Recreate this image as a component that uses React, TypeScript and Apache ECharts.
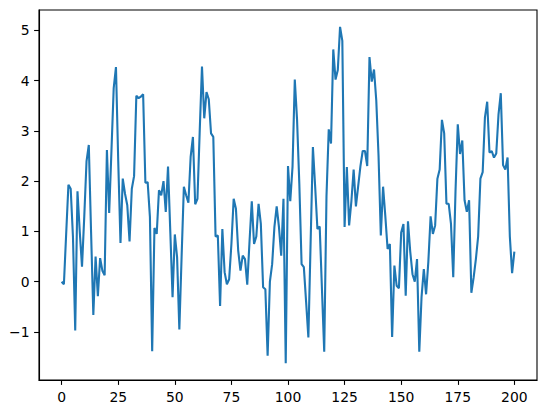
import React, { useEffect, useRef } from "react";
import * as echarts from "echarts";

const values: number[] = [
  0.0, -0.05, 0.95, 1.93, 1.85, 0.9, -0.97, 1.8, 1.0, 0.3,
  1.3, 2.4, 2.72, 1.0, -0.66, 0.5, -0.29, 0.47, 0.22, 0.13,
  2.62, 1.37, 2.6, 3.85, 4.27, 2.4, 0.77, 2.05, 1.75, 1.52,
  0.8, 1.85, 2.1, 3.7, 3.65, 3.68, 3.73, 1.97, 1.98, 1.29,
  -1.38, 1.07, 0.95, 1.82, 1.72, 2.0, 1.39, 2.29, 1.0, -0.31,
  0.94, 0.49, -0.95, 0.5, 1.89, 1.72, 1.57, 2.49, 2.88, 1.54,
  1.65, 3.0, 4.28, 3.25, 3.77, 3.63, 2.95, 2.88, 0.9, 0.92,
  -0.48, 1.05, 0.19, -0.05, 0.05, 0.75, 1.65, 1.45, 0.62, 0.22,
  0.52, 0.45, -0.06, 0.8, 1.6, 0.75, 0.9, 1.55, 1.15, -0.11,
  -0.15, -1.47, 0.0, 0.35, 1.09, 1.5, 1.09, 0.52, 1.65, -1.62,
  2.3, 1.6, 2.29, 4.02, 3.22, 1.95, 0.35, 0.29, -0.4, -1.11,
  0.8, 2.68, 1.89, 1.05, 1.1, -0.15, -1.39, 1.7, 3.03, 2.75,
  4.62, 4.02, 4.21, 5.07, 4.79, 1.09, 2.28, 1.12, 1.6, 2.23,
  1.5, 1.9, 2.3, 2.6, 2.6, 2.3, 4.47, 3.98, 4.22, 3.6,
  2.5, 0.92, 1.89, 1.3, 0.65, 0.75, -1.1, 0.32, -0.08, -0.13,
  0.98, 1.15, -0.28, 1.2, 0.6, 0.15, 0.0, 0.45, -1.39, -0.3,
  0.25, -0.25, 0.4, 1.3, 0.95, 1.12, 2.05, 2.23, 3.22, 2.95,
  1.55, 1.55, 1.15, 0.09, 1.8, 3.13, 2.54, 2.81, 1.62, 1.39,
  1.62, -0.22, 0.08, 0.45, 0.9, 2.05, 2.18, 3.27, 3.58, 2.57,
  2.6, 2.47, 2.55, 3.33, 3.75, 2.32, 2.23, 2.47, 0.9, 0.17,
  0.6,
];

const xTicks: number[] = [0, 25, 50, 75, 100, 125, 150, 175, 200];
const yTicks: number[] = [-1, 0, 1, 2, 3, 4, 5];

export default function App() {
  const ref = useRef<HTMLDivElement>(null);

  useEffect(() => {
    document.body.style.margin = "0";
    if (!ref.current) return;
    const chart = echarts.init(ref.current, null, { renderer: "svg" });
    const dmin = Math.min(...values);
    const dmax = Math.max(...values);
    const pad = (dmax - dmin) * 0.05;
    const xmin = 0 - 200 * 0.05;
    const xmax = values.length - 1 + 200 * 0.05;
    const font = {
      color: "#000",
      fontFamily: "DejaVu Sans",
      fontSize: 13.9,
    };
    const tick = (vals: number[]) => ({
      show: true,
      inside: false,
      length: 4.9,
      lineStyle: { color: "#000", width: 1.1 },
      customValues: vals,
    });
    const line = {
      show: true,
      onZero: false,
      lineStyle: { color: "#000", width: 1.1 },
    };
    chart.setOption({
      animation: false,
      backgroundColor: "#fff",
      grid: {
        left: 39,
        top: 10,
        right: 9,
        bottom: 33,
        show: true,
        borderColor: "#000",
        borderWidth: 1.1,
        backgroundColor: "transparent",
      },
      xAxis: {
        type: "value",
        min: xmin,
        max: xmax,
        splitLine: { show: false },
        axisLine: line,
        axisTick: tick(xTicks),
        axisLabel: {
          ...font,
          margin: 9.5,
          customValues: xTicks,
        },
      },
      yAxis: {
        type: "value",
        min: dmin - pad,
        max: dmax + pad,
        splitLine: { show: false },
        axisLine: line,
        axisTick: tick(yTicks),
        axisLabel: {
          ...font,
          margin: 9.5,
          customValues: yTicks,
          formatter: (v: number) => (v < 0 ? "\u2212" + Math.abs(v) : String(v)),
        },
      },
      series: [
        {
          type: "line",
          data: values.map((v, i) => [i, v]),
          showSymbol: false,
          symbol: "none",
          lineStyle: { color: "#1f77b4", width: 2.1 },
          itemStyle: { color: "#1f77b4" },
        },
      ],
    });
    return () => chart.dispose();
  }, []);

  return (
    <div
      ref={ref}
      style={{ position: "absolute", left: 0, top: 0, width: 546, height: 413 }}
    />
  );
}
